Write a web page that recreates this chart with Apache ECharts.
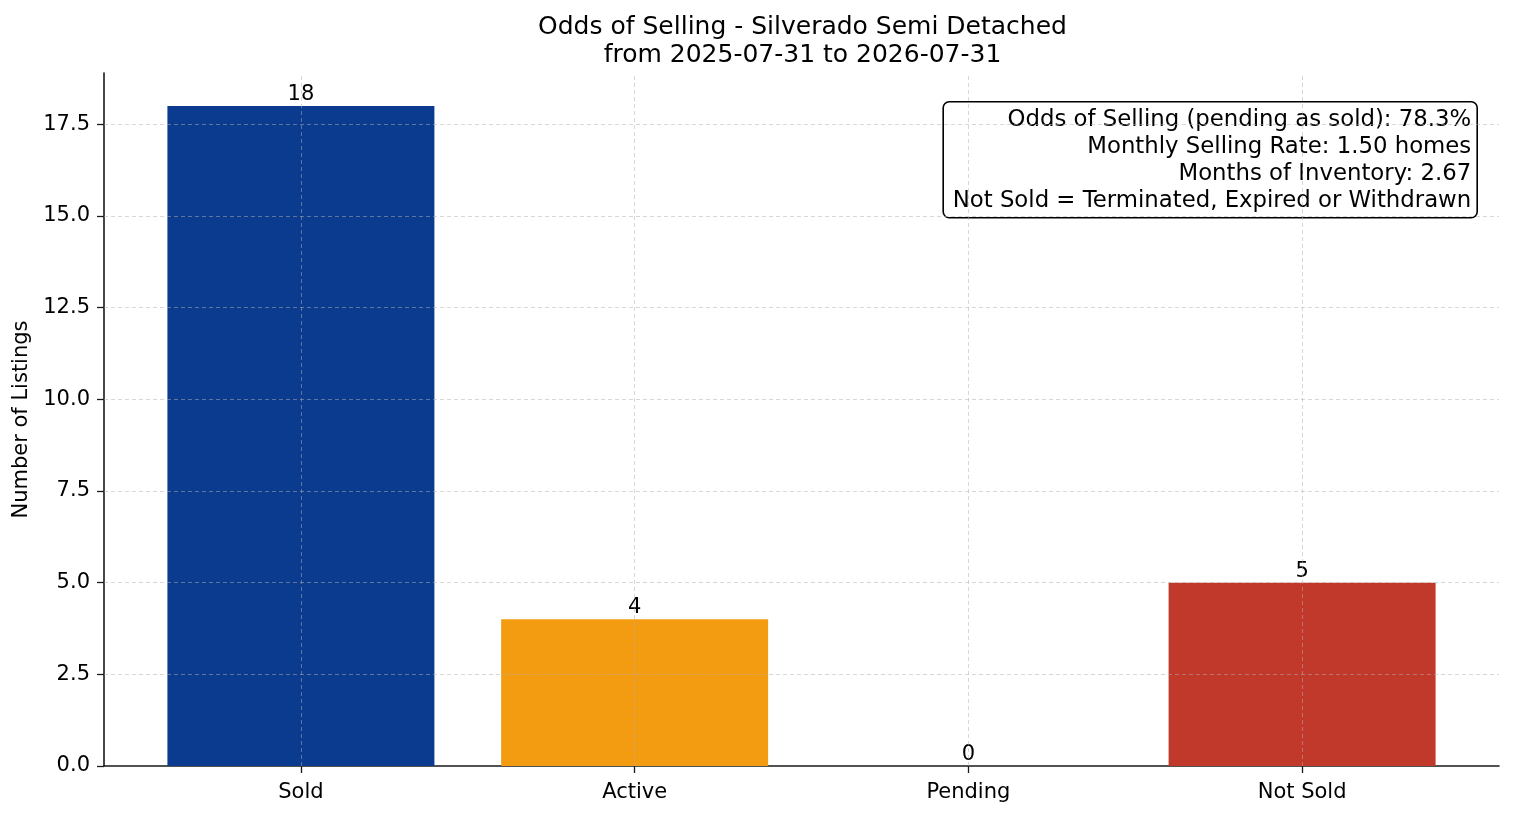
<!DOCTYPE html>
<html>
<head>
<meta charset="utf-8">
<script src="https://cdn.jsdelivr.net/npm/echarts@6/dist/echarts.min.js"></script>
<style>
html,body{margin:0;padding:0;background:#fff;}
#chart{width:1514px;height:816px;}
</style>
</head>
<body>
<div id="chart"></div>
<script>
const categories = ['Sold', 'Active', 'Pending', 'Not Sold'];
const listingCounts = [18, 4, 0, 5];
const barColors = ['#0b3b8e', '#f39c12', '#c0392b', '#c0392b'];
const yTickValues = [0, 2.5, 5, 7.5, 10, 12.5, 15, 17.5];
const titleLines = ['Odds of Selling - Silverado Semi Detached', 'from 2025-07-31 to 2026-07-31'];
const statsLines = [
  'Odds of Selling (pending as sold): 78.3%',
  'Monthly Selling Rate: 1.50 homes',
  'Months of Inventory: 2.67',
  'Not Sold = Terminated, Expired or Withdrawn'
];

const W = 1514, H = 816;
const grid = { left: 104, right: 15, top: 73, bottom: 50 };
const xMin = -0.59, xMax = 3.59, yMax = 18.9;
const plotW = W - grid.left - grid.right;
const barPx = 0.8 * plotW / (xMax - xMin);
const FONT = "'DejaVu Sans', sans-serif";
const TICK_FS = 21;

const gridLineStyle = { color: 'rgba(176,176,176,0.5)', width: 1, type: [4, 3] };
const markData = categories.map((c, i) => ({ xAxis: i }))
  .concat(yTickValues.filter(v => v > 0).map(v => ({ yAxis: v })));

const boxW = 534, boxH = 116, lineH = 26.8;
const statsChildren = [{
  type: 'rect',
  shape: { x: 0, y: 0, width: boxW, height: boxH, r: 6 },
  style: { fill: '#fff', stroke: '#000', lineWidth: 1.6 }
}].concat(statsLines.map((t, i) => ({
  type: 'text',
  x: boxW - 6,
  y: 7 + i * lineH,
  style: { text: t, font: '22.8px ' + FONT, fill: '#000', align: 'right', verticalAlign: 'top' }
})));

const chart = echarts.init(document.getElementById('chart'), null, { renderer: 'canvas' });
chart.setOption({
  animation: false,
  backgroundColor: '#ffffff',
  textStyle: { fontFamily: FONT },
  title: {
    text: titleLines.join('\n'),
    left: grid.left + plotW / 2 - 4,
    textAlign: 'center',
    top: 8,
    textStyle: { fontFamily: FONT, fontSize: 25, fontWeight: 'normal', color: '#000', lineHeight: 28 }
  },
  grid: { left: grid.left, right: grid.right, top: grid.top, bottom: grid.bottom, containLabel: false },
  xAxis: {
    type: 'value',
    min: xMin,
    max: xMax,
    axisLine: { show: true, onZero: false, lineStyle: { color: '#1a1a1a', width: 1.6 } },
    axisTick: { show: true, length: 7, customValues: categories.map((c, i) => i), lineStyle: { color: '#1a1a1a', width: 1.3 } },
    axisLabel: {
      customValues: categories.map((c, i) => i),
      formatter: v => categories[Math.round(v)] || '',
      fontFamily: FONT, fontSize: TICK_FS, color: '#000', margin: 16
    },
    splitLine: { show: false }
  },
  yAxis: {
    type: 'value',
    min: 0,
    max: yMax,
    name: 'Number of Listings',
    nameLocation: 'middle',
    nameGap: 64,
    nameTextStyle: { fontFamily: FONT, fontSize: TICK_FS, color: '#000' },
    axisLine: { show: true, onZero: false, lineStyle: { color: '#1a1a1a', width: 1.6 } },
    axisTick: { show: true, length: 7, customValues: yTickValues, lineStyle: { color: '#1a1a1a', width: 1.3 } },
    axisLabel: {
      customValues: yTickValues,
      formatter: v => v.toFixed(1),
      fontFamily: FONT, fontSize: TICK_FS, color: '#000', margin: 14
    },
    splitLine: { show: false }
  },
  series: [{
    type: 'bar',
    barWidth: barPx,
    data: listingCounts.map((v, i) => ({ value: [i, v], itemStyle: { color: barColors[i] } })),
    label: {
      show: true, position: 'top', distance: 1,
      formatter: p => String(p.value[1]),
      fontFamily: FONT, fontSize: TICK_FS, color: '#000'
    },
    markLine: {
      silent: true,
      symbol: 'none',
      label: { show: false },
      lineStyle: gridLineStyle,
      data: markData,
      z: 5
    }
  }],
  graphic: [{
    type: 'group',
    right: 36,
    top: 101,
    z: 100,
    children: statsChildren
  }]
});
</script>
</body>
</html>
